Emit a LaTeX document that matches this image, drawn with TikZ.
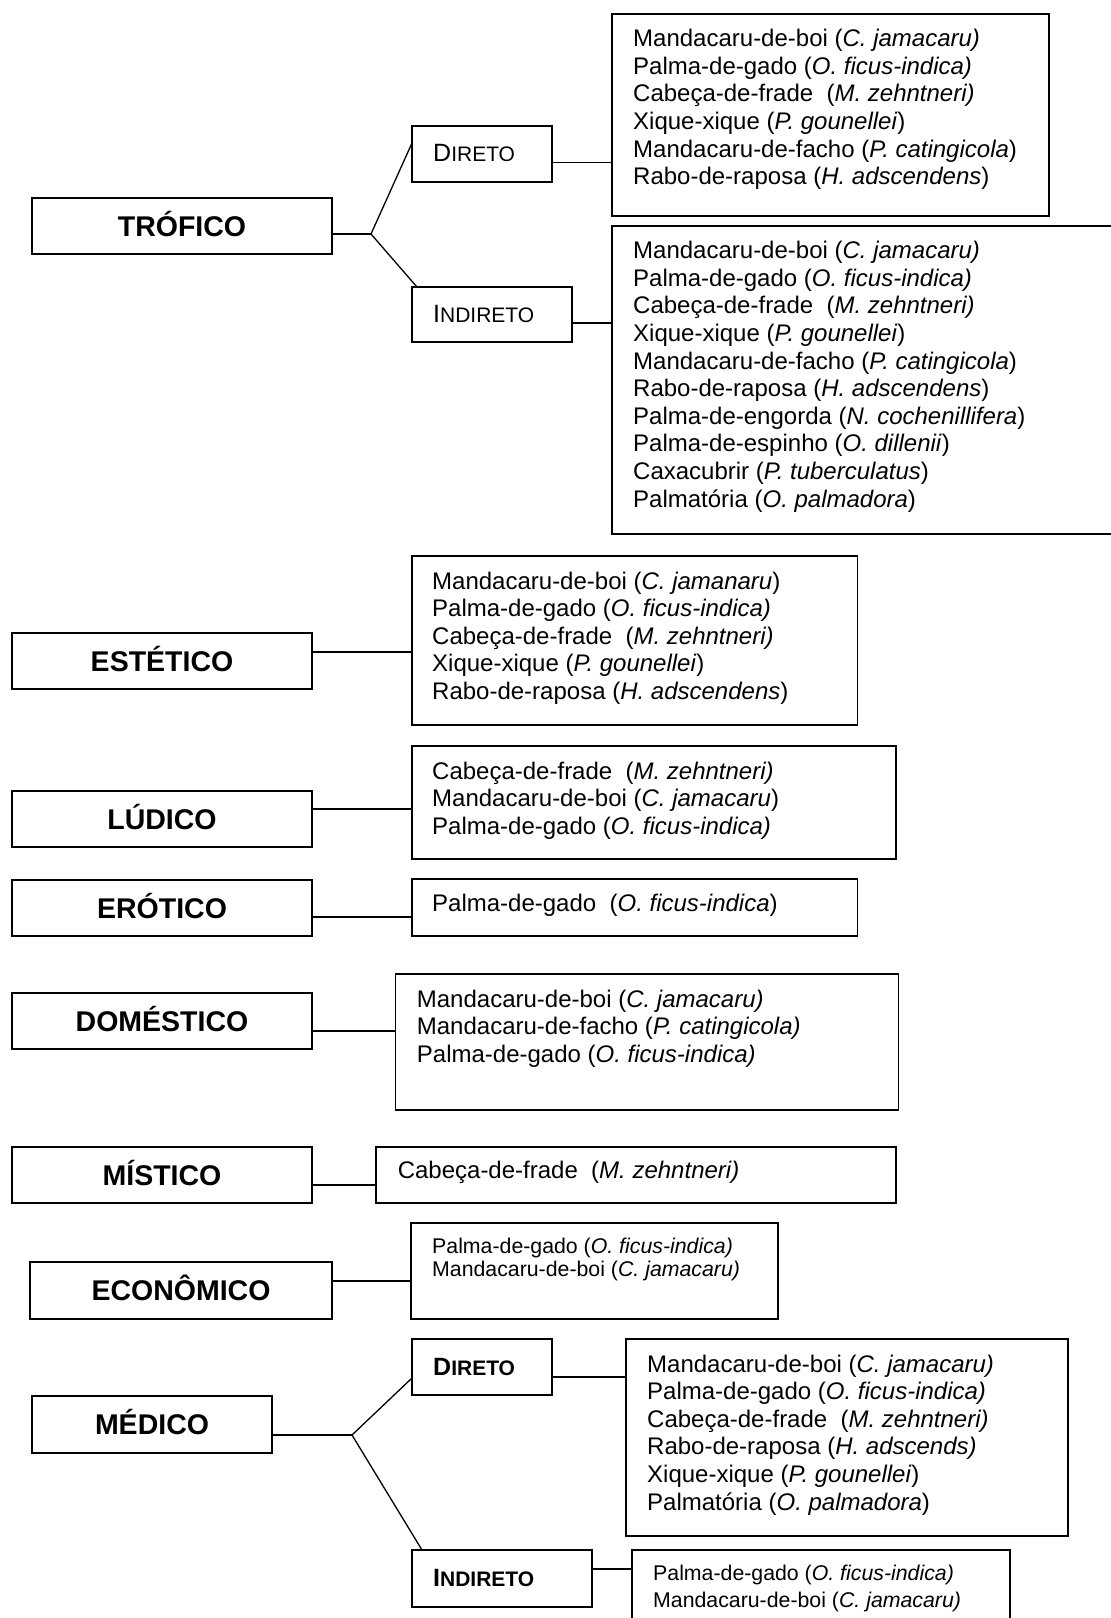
\documentclass[tikz,border=0pt]{standalone}
\usepackage{fontspec}
\setmainfont{Liberation Sans}
\newcommand\Lrow[1]{\hbox{#1}}
\newcommand\Lines[1]{\vtop{\lineskiplimit=-20pt\relax #1}}
\newcommand\smcap[2]{{\fontsize{25}{25}\selectfont #1}{\fontsize{21}{21}\selectfont #2}}
\tikzset{
  tbox/.style={draw, line width=1.8pt, inner sep=0pt, outer sep=0pt, anchor=center,
    font=\fontsize{28.5}{30}\selectfont\bfseries, text height=20.4pt, text depth=0pt},
  sbox/.style={draw, line width=1.8pt, inner sep=0pt, outer sep=0pt, anchor=north west},
  lab/.style={anchor=base west, inner sep=0pt},
  txt/.style={anchor=base west, inner sep=0pt, font=\fontsize{24}{27.6}\selectfont},
  stxt/.style={anchor=base west, inner sep=0pt},
  conn/.style={line width=1.5pt},
  diag/.style={line width=1.3pt},
}
\begin{document}
\begin{tikzpicture}[x=1pt,y=-1pt]
\useasboundingbox[fill=white] (0,0) rectangle (1111,1618);

% ---------------- TRÓFICO ----------------
\node[tbox, minimum width=300pt, minimum height=56pt] (tro) at (182,226) {TRÓFICO};
\node[sbox, minimum width=140pt, minimum height=56pt] (tdir) at (412,126) {};
\node[lab] (tdirl) at (433,161) {\smcap{D}{IRETO}};
\node[sbox, minimum width=160pt, minimum height=55pt] (tind) at (412,287) {};
\node[lab] (tindl) at (433,322) {\smcap{I}{NDIRETO}};
\node[sbox, minimum width=437pt, minimum height=202pt] (b1) at (612,14) {};
\node[txt] (t1) at (633,46.6) {\Lines{%
\Lrow{Mandacaru-de-boi (\textit{C. jamacaru)}}
\Lrow{Palma-de-gado (\textit{O. ficus-indica)}}
\Lrow{Cabeça-de-frade\ \ (\textit{M. zehntneri)}}
\Lrow{Xique-xique (\textit{P. gounellei})}
\Lrow{Mandacaru-de-facho (\textit{P. catingicola})}
\Lrow{Rabo-de-raposa (\textit{H. adscendens})}}};
\node[sbox, minimum width=530pt, minimum height=308pt] (b2) at (612,226) {};
\node[txt] (t2) at (633,258.6) {\Lines{%
\Lrow{Mandacaru-de-boi (\textit{C. jamacaru)}}
\Lrow{Palma-de-gado (\textit{O. ficus-indica)}}
\Lrow{Cabeça-de-frade\ \ (\textit{M. zehntneri)}}
\Lrow{Xique-xique (\textit{P. gounellei})}
\Lrow{Mandacaru-de-facho (\textit{P. catingicola})}
\Lrow{Rabo-de-raposa (\textit{H. adscendens})}
\Lrow{Palma-de-engorda (\textit{N. cochenillifera})}
\Lrow{Palma-de-espinho (\textit{O. dillenii})}
\Lrow{Caxacubrir (\textit{P. tuberculatus})}
\Lrow{Palmatória (\textit{O. palmadora})}}};
\coordinate (tj) at (371,234);
\coordinate (tju) at (412,143);
\coordinate (tjd) at (417,287);
\coordinate (y1) at (0,162.7);
\coordinate (y2) at (0,323);
\draw[conn] (tro.east |- tj) -- (tj);
\draw[diag] (tju) -- (tj) -- (tjd);
\draw[conn] (tdir.east |- y1) -- (b1.west |- y1);
\draw[conn] (tind.east |- y2) -- (b2.west |- y2);

% ---------------- ESTÉTICO ----------------
\node[tbox, minimum width=300pt, minimum height=56pt] (est) at (162,661) {ESTÉTICO};
\node[sbox, minimum width=445.5pt, minimum height=169pt] (b3) at (412,556) {};
\node[txt] (t3) at (432,589) {\Lines{%
\Lrow{Mandacaru-de-boi (\textit{C. jamanaru})}
\Lrow{Palma-de-gado (\textit{O. ficus-indica)}}
\Lrow{Cabeça-de-frade\ \ (\textit{M. zehntneri)}}
\Lrow{Xique-xique (\textit{P. gounellei})}
\Lrow{Rabo-de-raposa (\textit{H. adscendens})}}};
\coordinate (y3) at (0,652);
\draw[conn] (est.east |- y3) -- (b3.west |- y3);

% ---------------- LÚDICO ----------------
\node[tbox, minimum width=300pt, minimum height=56pt] (lud) at (162,819) {LÚDICO};
\node[sbox, minimum width=484pt, minimum height=113pt] (b4) at (412,746) {};
\node[txt] (t4) at (432,779) {\Lines{%
\Lrow{Cabeça-de-frade\ \ (\textit{M. zehntneri)}}
\Lrow{Mandacaru-de-boi (\textit{C. jamacaru})}
\Lrow{Palma-de-gado (\textit{O. ficus-indica)}}}};
\coordinate (y4) at (0,809);
\draw[conn] (lud.east |- y4) -- (b4.west |- y4);

% ---------------- ERÓTICO ----------------
\node[tbox, minimum width=300pt, minimum height=56pt] (ero) at (162,908) {ERÓTICO};
\node[sbox, minimum width=445.5pt, minimum height=57pt] (b5) at (412,879) {};
\node[txt] (t5) at (432,911) {Palma-de-gado\ \ (\textit{O. ficus-indica})};
\coordinate (y5) at (0,917);
\draw[conn] (ero.east |- y5) -- (b5.west |- y5);

% ---------------- DOMÉSTICO ----------------
\node[tbox, minimum width=300pt, minimum height=56pt] (dom) at (162,1021) {DOMÉSTICO};
\node[sbox, minimum width=503pt, minimum height=136pt] (b6) at (395.5,974) {};
\node[txt] (t6) at (416.7,1007) {\Lines{%
\Lrow{Mandacaru-de-boi (\textit{C. jamacaru)}}
\Lrow{Mandacaru-de-facho (\textit{P. catingicola)}}
\Lrow{Palma-de-gado (\textit{O. ficus-indica)}}}};
\coordinate (y6) at (0,1031);
\draw[conn] (dom.east |- y6) -- (b6.west |- y6);

% ---------------- MÍSTICO ----------------
\node[tbox, minimum width=300pt, minimum height=56pt] (mis) at (162,1175) {MÍSTICO};
\node[sbox, minimum width=520pt, minimum height=56pt] (b7) at (376,1147) {};
\node[txt] (t7) at (397.6,1178) {Cabeça-de-frade\ \ (\textit{M. zehntneri)}};
\coordinate (y7) at (0,1185);
\draw[conn] (mis.east |- y7) -- (b7.west |- y7);

% ---------------- ECONÔMICO ----------------
\node[tbox, minimum width=302pt, minimum height=57pt] (eco) at (181,1290.5) {ECONÔMICO};
\node[sbox, minimum width=367pt, minimum height=96pt] (b8) at (411,1223) {};
\node[stxt, font=\fontsize{21.3}{23.7}\selectfont] (t8) at (432,1253) {\Lines{%
\Lrow{Palma-de-gado (\textit{O. ficus-indica)}}
\Lrow{Mandacaru-de-boi (\textit{C. jamacaru)}}}};
\coordinate (y8) at (0,1281);
\draw[conn] (eco.east |- y8) -- (b8.west |- y8);

% ---------------- MÉDICO ----------------
\node[tbox, minimum width=240pt, minimum height=57pt] (med) at (152,1424.5) {MÉDICO};
\node[sbox, minimum width=140pt, minimum height=56pt] (mdir) at (412,1339) {};
\node[lab, font=\bfseries] (mdirl) at (433,1375) {\smcap{D}{IRETO}};
\node[sbox, minimum width=180pt, minimum height=57pt] (mind) at (412,1550) {};
\node[lab, font=\bfseries] (mindl) at (433,1586.7) {\smcap{I}{NDIRETO}};
\node[sbox, minimum width=442pt, minimum height=197pt] (b9) at (626,1339) {};
\node[txt] (t9) at (647,1372) {\Lines{%
\Lrow{Mandacaru-de-boi (\textit{C. jamacaru)}}
\Lrow{Palma-de-gado (\textit{O. ficus-indica)}}
\Lrow{Cabeça-de-frade\ \ (\textit{M. zehntneri)}}
\Lrow{Rabo-de-raposa (\textit{H. adscends)}}
\Lrow{Xique-xique (\textit{P. gounellei})}
\Lrow{Palmatória (\textit{O. palmadora})}}};
\node[sbox, minimum width=378pt, minimum height=100pt] (b10) at (632,1550) {};
\node[stxt, font=\fontsize{21.3}{27.3}\selectfont] (t10) at (653,1580) {\Lines{%
\Lrow{Palma-de-gado (\textit{O. ficus-indica)}}
\Lrow{Mandacaru-de-boi (\textit{C. jamacaru)}}}};
\coordinate (mj) at (352,1435);
\coordinate (mju) at (412,1378);
\coordinate (mjd) at (422,1550);
\coordinate (y9) at (0,1377);
\coordinate (y10) at (0,1569);
\draw[conn] (med.east |- mj) -- (mj);
\draw[diag] (mju) -- (mj) -- (mjd);
\draw[conn] (mdir.east |- y9) -- (b9.west |- y9);
\draw[conn] (mind.east |- y10) -- (b10.west |- y10);
\end{tikzpicture}
\end{document}
